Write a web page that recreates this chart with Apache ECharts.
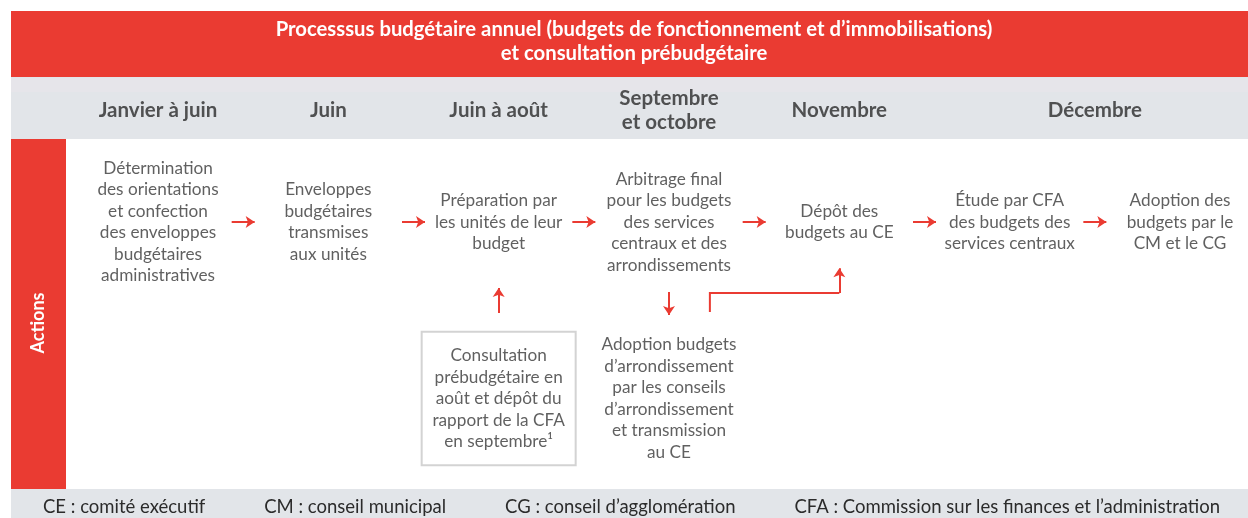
<!DOCTYPE html>
<html><head><meta charset="utf-8">
<script src="https://cdn.jsdelivr.net/npm/echarts@6/dist/echarts.min.js"></script>
<style>html,body{margin:0;padding:0;background:#fff}#c{width:1248px;height:518px}</style>
</head><body><div id="c"></div>
<script>
// ---------- DATA ----------
const titleLines = [
  "Processsus budgétaire annuel (budgets de fonctionnement et d’immobilisations)",
  "et consultation prébudgétaire"
];
const periods = ["Janvier à juin", "Juin", "Juin à août", "Septembre\net octobre", "Novembre", "Décembre"];
const periodSlots = [[0], [1], [2], [3], [4], [5, 6]];
const rowLabel = "Actions";
const mainSteps = [
  "Détermination\ndes orientations\net confection\ndes enveloppes\nbudgétaires\nadministratives",
  "Enveloppes\nbudgétaires\ntransmises\naux unités",
  "Préparation par\nles unités de leur\nbudget",
  "Arbitrage final\npour les budgets\ndes services\ncentraux et des\narrondissements",
  "Dépôt des\nbudgets au CE",
  "Étude par CFA\ndes budgets des\nservices centraux",
  "Adoption des\nbudgets par le\nCM et le CG"
];
const lowerSteps = [
  "Consultation\nprébudgétaire en\naoût et dépôt du\nrapport de la CFA\nen septembre¹",
  "Adoption budgets\nd’arrondissement\npar les conseils\nd’arrondissement\net transmission\nau CE"
];
const lowerSlots = [2, 3];
const lowerBoxed = [true, false];
const flowLinks = [[0, 1], [1, 2], [2, 3], [3, 4], [4, 5], [5, 6]];
// [fromRow, fromIndex, toRow, toIndex]  row: "main" | "lower"
const sideLinks = [["lower", 0, "main", 2], ["main", 3, "lower", 1], ["lower", 1, "main", 4]];
const abbreviations = [
  "CE : comité exécutif",
  "CM : conseil municipal",
  "CG : conseil d’agglomération",
  "CFA : Commission sur les finances et l’administration"
];

// ---------- STYLE / LAYOUT ----------
const RED = '#ea3b32', GRAY = '#e2e5e9', TXT = '#383838', HEAD = '#2b2b2b', BOXLINE = '#c8c8c8';
const FONT = 'Lato';
const HEADER_ROW = -0.635;
const ARROW_HALF = 0.0675;

const chart = echarts.init(document.getElementById('c'), null, { renderer: 'canvas' });

const slotOf = (row, i) => row === 'main' ? i : lowerSlots[i];
const rowOf = row => row === 'main' ? 0 : 1;

const arrowData = flowLinks.map(([a, b]) => {
  const m = (a + b) / 2;
  return { coords: [[m - ARROW_HALF, 0], [m + ARROW_HALF, 0]] };
});
const plainSegs = [];
sideLinks.forEach(([fr, fi, tr, ti]) => {
  const sx = slotOf(fr, fi), tx = slotOf(tr, ti);
  const sy = rowOf(fr), ty = rowOf(tr);
  if (sx === tx) {
    arrowData.push({ coords: [[sx, sy === 0 ? 0.397 : 0.516], [tx, ty === 0 ? 0.374 : 0.527]] });
  } else {
    const x0 = sx + 0.24, yMid = 0.402;
    plainSegs.push({ coords: [[x0, 0.51], [x0, yMid], [tx, yMid]] });
    arrowData.push({ coords: [[tx, yMid], [tx, 0.262]] });
  }
});

const bodyLabel = { show: true, position: 'inside', formatter: '{b}', color: TXT,
  fontFamily: FONT, fontSize: 17.2, lineHeight: 21.5, align: 'center', verticalAlign: 'middle' };

const stepData = mainSteps.map((t, i) => ({ name: t, value: [i, 0] }));
const lowerData = lowerSteps.map((t, i) => {
  const d = { name: t, value: [lowerSlots[i], 1] };
  if (lowerBoxed[i]) d.label = { borderColor: BOXLINE, borderWidth: 2, padding: [13, 9], width: 136 };
  return d;
});
const headerData = periods.map((p, i) => {
  const s = periodSlots[i];
  return { name: p, value: [s.reduce((a, b) => a + b, 0) / s.length, HEADER_ROW] };
});

// abbreviation layout: spread across the bottom band
const ABBR_FONT = '18.5px ' + FONT;
const ctx = document.createElement('canvas').getContext('2d');
ctx.font = ABBR_FONT;
const widths = abbreviations.map(a => ctx.measureText(a).width);
const L0 = 43, L1 = 1220;
const gap = (L1 - L0 - widths.reduce((a, b) => a + b, 0)) / (abbreviations.length - 1);
let cur = L0;
const abbrEls = abbreviations.map((a, i) => {
  const el = { type: 'text', x: cur, y: 507, z: 10,
    style: { text: a, fill: HEAD, font: ABBR_FONT, textAlign: 'left', textVerticalAlign: 'middle' } };
  cur += widths[i] + gap;
  return el;
});

chart.setOption({
  animation: false,
  backgroundColor: '#fff',
  grid: { left: 158, right: 68, top: 222, bottom: 119.5 },
  xAxis: { type: 'value', min: 0, max: 6, show: false },
  yAxis: { type: 'value', min: 0, max: 1, inverse: true, show: false },
  graphic: [
    { type: 'rect', shape: { x: 11, y: 11, width: 1237, height: 66 }, style: { fill: RED }, z: -10 },
    { type: 'rect', shape: { x: 11, y: 77, width: 1237, height: 62 }, style: { fill: GRAY }, z: -10 },
    { type: 'rect', shape: { x: 11, y: 78, width: 1237, height: 14 }, style: { fill: '#e6e5ea' }, z: -9 },
    { type: 'rect', shape: { x: 11, y: 139, width: 55, height: 350 }, style: { fill: RED }, z: -10 },
    { type: 'rect', shape: { x: 11, y: 489, width: 1237, height: 29 }, style: { fill: GRAY }, z: -10 },
    { type: 'text', x: 634, y: 41, z: 10,
      style: { text: titleLines.join('\n'), fill: '#fff', font: 'bold 20.3px ' + FONT, lineHeight: 24,
        textAlign: 'center', textVerticalAlign: 'middle' } },
    { type: 'text', x: 38, y: 323, rotation: Math.PI / 2, z: 10,
      style: { text: rowLabel, fill: '#fff', font: 'bold 18px ' + FONT, textAlign: 'center', textVerticalAlign: 'middle' } }
  ].concat(abbrEls),
  series: [
    { type: 'scatter', name: 'headers', clip: false, symbolSize: 0, data: headerData,
      label: { show: true, position: 'inside', formatter: '{b}', color: HEAD, fontFamily: FONT,
        fontWeight: 'bold', fontSize: 20.5, lineHeight: 24, align: 'center', verticalAlign: 'middle' } },
    { type: 'scatter', name: 'steps', clip: false, symbolSize: 0, data: stepData, label: bodyLabel },
    { type: 'scatter', name: 'lower', clip: false, symbolSize: 0, data: lowerData, label: bodyLabel },
    { type: 'lines', coordinateSystem: 'cartesian2d', clip: false, data: arrowData,
      symbol: ['none', 'arrow'], symbolSize: 9,
      lineStyle: { color: RED, width: 2, opacity: 1, curveness: 0 } },
    { type: 'lines', coordinateSystem: 'cartesian2d', polyline: true, clip: false, data: plainSegs,
      lineStyle: { color: RED, width: 2, opacity: 1 } }
  ]
});
</script></body></html>
